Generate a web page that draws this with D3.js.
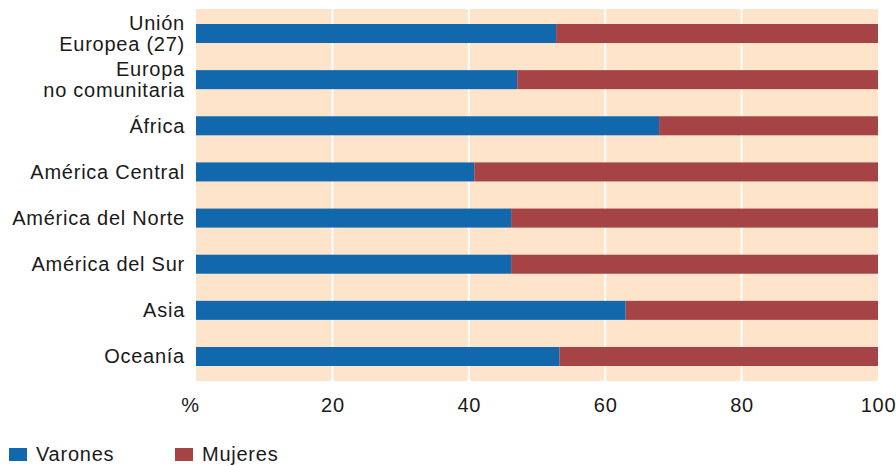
<!DOCTYPE html>
<html><head><meta charset="utf-8">
<script src="https://cdn.jsdelivr.net/npm/d3@7"></script>
<style>body{margin:0;background:#fff}svg{display:block}</style>
</head><body>
<svg id="c" width="896" height="466"></svg>
<script>
const categories = ["Unión\nEuropea (27)", "Europa\nno comunitaria", "África", "América Central", "América del Norte", "América del Sur", "Asia", "Oceanía"];
const varones = [52.8, 47.1, 67.9, 40.8, 46.2, 46.2, 63.0, 53.3];
const mujeres = varones.map(v => 100 - v);
const tickValues = [0, 20, 40, 60, 80, 100];
const tickLabels = ["%", "20", "40", "60", "80", "100"];
const seriesNames = ["Varones", "Mujeres"];
const colors = ["#1268ac", "#a64346"];

const svg = d3.select("#c");
const font = "'Liberation Sans', Arial, sans-serif";
const ls = "0.75px";
const pLeft = 196, pRight = 878, pTop = 9, pBottom = 381;
const x = d3.scaleLinear().domain([0, 100]).range([pLeft, pRight]);
const y = d3.scaleBand().domain(categories).range([pTop, pBottom]).paddingInner(0.588).paddingOuter(0.325);

svg.append("rect").attr("x", pLeft).attr("y", pTop).attr("width", pRight - pLeft).attr("height", pBottom - pTop).attr("fill", "#fde4cb");

svg.append("g").selectAll("line").data(tickValues.slice(1, -1)).join("line")
  .attr("x1", d => x(d)).attr("x2", d => x(d)).attr("y1", pTop).attr("y2", pBottom)
  .attr("stroke", "#fff").attr("stroke-width", 2);

const rows = categories.map((c, i) => ({c, v: varones[i], m: mujeres[i]}));
svg.append("g").selectAll("rect").data(rows).join("rect")
  .attr("x", x(0)).attr("y", d => y(d.c)).attr("width", d => x(d.v) - x(0)).attr("height", y.bandwidth()).attr("fill", colors[0]);
svg.append("g").selectAll("rect").data(rows).join("rect")
  .attr("x", d => x(d.v)).attr("y", d => y(d.c)).attr("width", d => x(d.v + d.m) - x(d.v)).attr("height", y.bandwidth()).attr("fill", colors[1]);

// category labels
const lab = svg.append("g").attr("font-family", font).attr("font-size", 20).attr("letter-spacing", ls).attr("fill", "#1a1a1a").attr("text-anchor", "end");
categories.forEach(c => {
  const lines = c.split("\n");
  const cy = y(c) + y.bandwidth() / 2;
  const lh = 21;
  lines.forEach((l, j) => {
    lab.append("text").attr("x", 185).attr("y", cy + (j - (lines.length - 1) / 2) * lh).attr("dy", "0.35em").text(l);
  });
});

// x axis
const xAxis = d3.axisBottom(x).tickValues(tickValues).tickFormat((d, i) => tickLabels[i]).tickSize(0).tickPadding(0);
const ax = svg.append("g").attr("transform", `translate(0,${pBottom})`).call(xAxis);
ax.select(".domain").remove();
ax.selectAll("text").attr("font-family", font).attr("font-size", 20).attr("letter-spacing", ls).attr("fill", "#1a1a1a").attr("y", 31).attr("dy", 0);
ax.selectAll("text").filter((d, i) => i === 0).attr("x", -6);

// legend
const lg = svg.append("g").attr("font-family", font).attr("font-size", 20).attr("letter-spacing", ls).attr("fill", "#1a1a1a");
const lx = [9, 175];
seriesNames.forEach((s, i) => {
  lg.append("rect").attr("x", lx[i]).attr("y", 448).attr("width", 18).attr("height", 13).attr("fill", colors[i]);
  lg.append("text").attr("x", lx[i] + 27).attr("y", 461).text(s);
});
</script>
</body></html>
